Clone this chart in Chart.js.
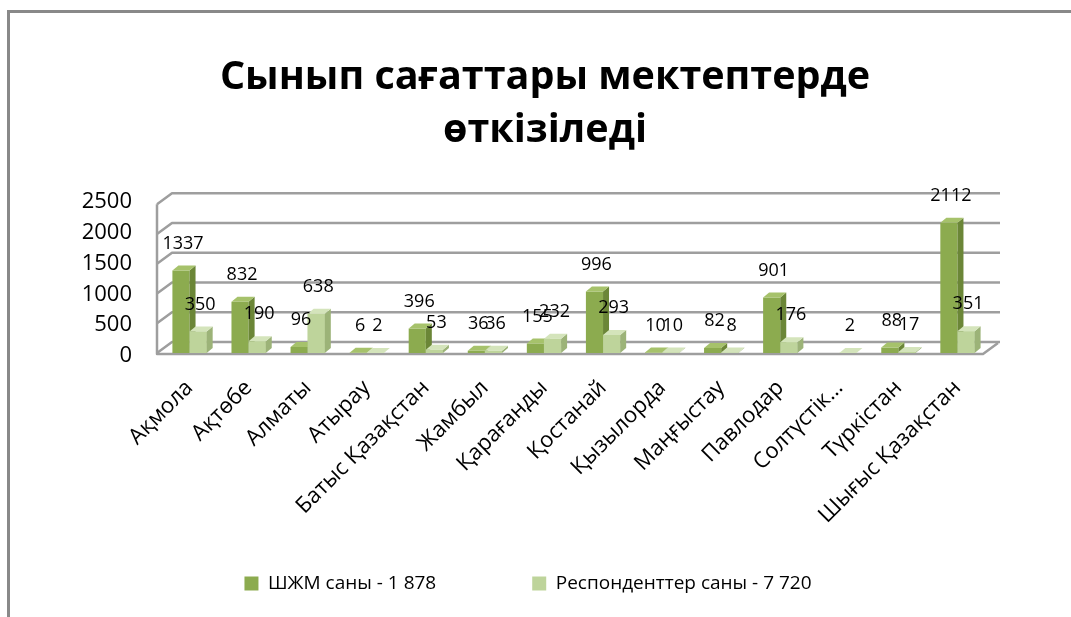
<!DOCTYPE html>
<html>
<head>
<meta charset="utf-8">
<script src="https://cdn.jsdelivr.net/npm/chart.js@4.4.0/dist/chart.umd.min.js"></script>
<style>
  html, body { margin: 0; padding: 0; background: #fff; }
  #wrap { position: relative; width: 1071px; height: 617px; overflow: hidden; }
  #frame { position: absolute; left: 7px; top: 10px; width: 1100px; height: 700px;
           border-top: 3px solid #898989; border-left: 3px solid #898989; }
  canvas { position: absolute; left: 0; top: 0; }
</style>
</head>
<body>
<div id="wrap">
  <div id="frame"></div>
  <canvas id="chart" width="1071" height="617"></canvas>
</div>
<script>
// data
const regions = ["Ақмола", "Ақтөбе", "Алматы", "Атырау", "Батыс Қазақстан", "Жамбыл", "Қарағанды",
                 "Қостанай", "Қызылорда", "Маңғыстау", "Павлодар", "Солтүстік…", "Түркістан", "Шығыс Қазақстан"];
const shzhmCounts      = [1337, 832, 96, 6, 396, 36, 155, 996, 10, 82, 901, null, 88, 2112];
const respondentCounts = [350, 190, 638, 2, 53, 36, 232, 293, 10, 8, 176, 2, 17, 351];
const yTicks = [0, 500, 1000, 1500, 2000, 2500];
const seriesNames = ["ШЖМ саны - 1 878", "Респонденттер саны - 7 720"];

const FONT = "'Open Sans', 'Noto Sans', sans-serif";
const WALL_DX = 15, WALL_DY = 11;   // depth of the back wall
const WALL_SQUEEZE = 0.965;         // front edge of the wall is a bit shorter than the columns' plane
const BAR_DX = 6, BAR_DY = 5;       // depth of a column

// back wall gridlines + floor, drawn before the columns
const wallPlugin = {
  id: 'wall3d',
  afterLayout(chart) {
    // let the rotated labels run below the axis box, and pull the legend a bit left
    chart.scales.x.bottom = chart.height;
    chart.legend.left -= 17;
    chart.legend.right -= 17;
  },
  beforeDatasetsDraw(chart) {
    const {ctx, chartArea: a, scales: {y}} = chart;
    const x0 = a.left - 3;
    const bot = y.getPixelForValue(0);
    const front = v => bot - (bot - y.getPixelForValue(v)) * WALL_SQUEEZE;
    ctx.save();
    ctx.strokeStyle = '#9e9e9e';
    ctx.lineWidth = 2.5;
    ctx.lineJoin = 'round';
    yTicks.forEach(v => {
      const py = front(v);
      ctx.beginPath();
      ctx.moveTo(x0, py);
      ctx.lineTo(x0 + WALL_DX, py - WALL_DY);
      ctx.lineTo(a.right + 13, py - WALL_DY);
      ctx.stroke();
    });
    const top = front(yTicks[yTicks.length - 1]);
    ctx.beginPath();
    ctx.moveTo(x0, top);
    ctx.lineTo(x0, bot + 1);
    ctx.lineTo(a.right - 4, bot + 1);
    ctx.lineTo(a.right - 4 + WALL_DX, bot + 1 - WALL_DY);
    ctx.stroke();
    ctx.restore();
  }
};

function drawFaces(ctx, bar, topColor, sideColor) {
  const {x, y, base, width} = bar.getProps(['x', 'y', 'base', 'width'], true);
  const l = x - width / 2, r = x + width / 2;
  ctx.fillStyle = sideColor;
  ctx.beginPath();
  ctx.moveTo(r, y); ctx.lineTo(r + BAR_DX, y - BAR_DY);
  ctx.lineTo(r + BAR_DX, base - BAR_DY); ctx.lineTo(r, base);
  ctx.closePath(); ctx.fill();
  ctx.fillStyle = topColor;
  ctx.beginPath();
  ctx.moveTo(l, y); ctx.lineTo(l + BAR_DX, y - BAR_DY);
  ctx.lineTo(r + BAR_DX, y - BAR_DY); ctx.lineTo(r, y);
  ctx.closePath(); ctx.fill();
}

// side and top faces of the columns, light series redrawn in front of the dark one
const columnPlugin = {
  id: 'column3d',
  afterDatasetsDraw(chart) {
    const ctx = chart.ctx;
    const m0 = chart.getDatasetMeta(0), m1 = chart.getDatasetMeta(1);
    ctx.save();
    m0.data.forEach((bar, i) => {
      if (shzhmCounts[i] == null) return;
      drawFaces(ctx, bar, '#a6c26b', '#6b8637');
    });
    m1.data.forEach((bar, i) => {
      if (respondentCounts[i] == null) return;
      bar.draw(ctx, chart.chartArea);
      drawFaces(ctx, bar, '#d4e4bb', '#9cb378');
    });
    ctx.restore();
  },
  afterDraw(chart) {
    const ctx = chart.ctx;
    ctx.save();
    ctx.font = "18px " + FONT;
    ctx.fillStyle = '#000';
    ctx.textAlign = 'center';
    ctx.textBaseline = 'middle';
    chart.data.datasets.forEach((ds, d) => {
      chart.getDatasetMeta(d).data.forEach((bar, i) => {
        if (ds.data[i] == null) return;
        ctx.fillText(String(ds.data[i]), bar.x + 2, bar.y - 27);
      });
    });
    ctx.restore();
  }
};

new Chart(document.getElementById('chart'), {
  type: 'bar',
  data: {
    labels: regions,
    datasets: [
      { label: seriesNames[0], data: shzhmCounts, backgroundColor: '#8cab4f', borderWidth: 0 },
      { label: seriesNames[1], data: respondentCounts, backgroundColor: '#bed49b', borderWidth: 0 }
    ]
  },
  options: {
    responsive: false,
    animation: false,
    devicePixelRatio: 1,
    layout: { padding: { left: 19, right: 0, top: 0, bottom: 14 } },
    datasets: { bar: { categoryPercentage: 0.58, barPercentage: 1 } },
    plugins: {
      title: {
        display: true,
        text: ['Сынып сағаттары мектептерде', 'өткізіледі'],
        color: '#000',
        font: { family: FONT, size: 39.5, weight: 'bold', lineHeight: 1.34 },
        padding: { top: 51, bottom: 42 }
      },
      legend: {
        position: 'bottom',
        labels: {
          color: '#000',
          font: { family: FONT, size: 19 },
          boxWidth: 14, boxHeight: 14,
          padding: 96
        }
      },
      tooltip: { enabled: false }
    },
    scales: {
      x: {
        grid: { display: false },
        border: { display: false },
        ticks: {
          color: '#000', font: { family: FONT, size: 22 },
          maxRotation: 45, minRotation: 45, autoSkip: false, padding: 14
        },
        afterFit(s) { s.height = 125; }
      },
      y: {
        min: 0, max: 2500,
        grid: { display: false },
        border: { display: false },
        ticks: {
          stepSize: 500, color: '#000', font: { family: FONT, size: 22 }, padding: 20,
          labelOffset: 3,
          callback: v => String(v)
        },
        afterFit(s) { s.width = 141; }
      },
      yRight: {
        position: 'right',
        grid: { display: false },
        border: { display: false },
        ticks: { display: false },
        afterFit(s) { s.width = 84; }
      }
    }
  },
  plugins: [wallPlugin, columnPlugin]
});
</script>
</body>
</html>
